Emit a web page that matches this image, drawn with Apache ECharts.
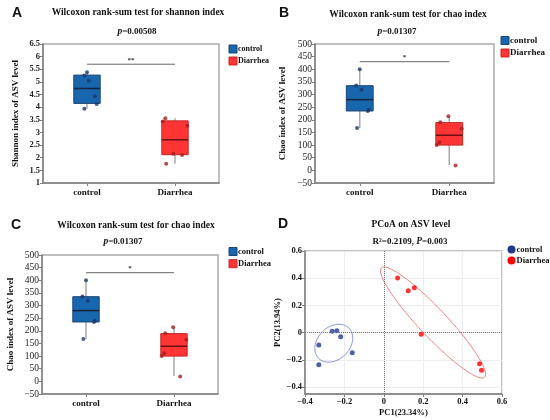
<!DOCTYPE html>
<html>
<head>
<meta charset="utf-8">
<script src="https://cdn.jsdelivr.net/npm/echarts@6/dist/echarts.min.js"></script>
<style>
html, body { margin: 0; padding: 0; background: #fff; }
#main { width: 550px; height: 420px; }
</style>
</head>
<body>
<div id="main"></div>
<script>
var groups = ['control', 'Diarrhea'];

// A: shannon index, points and box stats (min, Q1, median, Q3, max)
var shannonControl = [5.25, 5.38, 5.05, 4.43, 4.13, 3.94];
var shannonDiarrhea = [3.56, 3.43, 3.27, 2.16, 2.11, 1.76];
var shannonJitterControl = [-0.03, 0, 0.02, 0.09, 0.11, -0.03];
var shannonJitterDiarrhea = [-0.11, -0.14, 0.14, -0.02, 0.08, -0.10];
var shannonBoxControl = [3.94, 4.15, 4.74, 5.27, 5.38];
var shannonBoxDiarrhea = [1.76, 2.12, 2.71, 3.46, 3.56];
var shannonSig = 5.7;

// B and C: chao index
var chaoControl = [400, 336, 319, 240, 235, 168];
var chaoDiarrhea = [214, 190, 165, 111, 100, 19];
var chaoJitterControl = [0.00, -0.04, 0.02, 0.10, 0.09, -0.03];
var chaoJitterDiarrhea = [-0.01, -0.10, 0.14, -0.11, -0.14, 0.07];
var chaoBoxControl = [168, 235, 280, 335, 400];
var chaoBoxDiarrhea = [21, 100, 139, 189, 214];
var chaoSig = 430;

// D: PCoA scores [PC1, PC2]
var pcoaControl = [[-0.262, 0.010], [-0.238, 0.015], [-0.219, -0.029], [-0.330, -0.090], [-0.160, -0.148], [-0.330, -0.236]];
var pcoaDiarrhea = [[0.070, 0.402], [0.124, 0.309], [0.155, 0.330], [0.190, -0.012], [0.486, -0.227], [0.496, -0.276]];
// ellipse: centre x, centre y, axis1 dx, dy, axis2 dx, dy
var ellipseControl = [-0.254, -0.077, 0.077, 0.111, 0.058, -0.084];
var ellipseDiarrhea = [0.250, 0.075, 0.262, -0.402, 0.052, 0.070];

var pcTicks = [-0.4, -0.2, 0, 0.2, 0.4, 0.6];

var serif = '"Liberation Serif", "Times New Roman", serif';
var blueFill = '#1866ad', blueLine = '#1b4672', blueMid = '#14263e', bluePt = '#1c3a6c';
var redFill = '#ff3535', redLine = '#c42626', redMid = '#6a1212', redPt = '#a81d1d';

var myChart = echarts.init(document.getElementById('main'));

function minus(s) { return String(s).replace('-', '\u2212'); }

function boxRender(fill, stroke, mid) {
    return function (params, api) {
        var x = api.value(0);
        var lo = api.coord([x, api.value(1)]);
        var q1 = api.coord([x, api.value(2)]);
        var md = api.coord([x, api.value(3)]);
        var q3 = api.coord([x, api.value(4)]);
        var hi = api.coord([x, api.value(5)]);
        var hw = api.size([0.3, 0])[0] / 2;
        return {
            type: 'group',
            children: [
                { type: 'line', shape: { x1: lo[0], y1: lo[1], x2: hi[0], y2: hi[1] }, style: { stroke: '#a8a8a8', lineWidth: 1.5 } },
                { type: 'rect', shape: { x: q3[0] - hw, y: q3[1], width: hw * 2, height: q1[1] - q3[1] }, style: { fill: fill, stroke: stroke, lineWidth: 1 } },
                { type: 'line', shape: { x1: md[0] - hw, y1: md[1], x2: md[0] + hw, y2: md[1] }, style: { stroke: mid, lineWidth: 1.5 } }
            ]
        };
    };
}

function sigRender(mark) {
    return function (params, api) {
        var a = api.coord([api.value(0), api.value(2)]);
        var b = api.coord([api.value(1), api.value(2)]);
        return {
            type: 'group',
            children: [
                { type: 'line', shape: { x1: a[0], y1: a[1], x2: b[0], y2: b[1] }, style: { stroke: '#666', lineWidth: 1 } },
                { type: 'text', x: (a[0] + b[0]) / 2, y: a[1] - 1, style: { text: mark, font: 'bold 7px ' + serif, fill: '#333', align: 'center', verticalAlign: 'bottom' } }
            ]
        };
    };
}

function ellipseRender(color) {
    return function (params, api) {
        var pts = [];
        for (var i = 0; i <= 72; i++) {
            var t = i / 72 * Math.PI * 2;
            var c = Math.cos(t), s = Math.sin(t);
            pts.push(api.coord([
                api.value(0) + api.value(2) * c + api.value(4) * s,
                api.value(1) + api.value(3) * c + api.value(5) * s
            ]));
        }
        return { type: 'polyline', shape: { points: pts }, style: { fill: 'none', stroke: color, lineWidth: 1 } };
    };
}

function jittered(values, jitter, g) {
    return values.map(function (v, i) { return [g + jitter[i], v]; });
}

function groupAxis(gi) {
    return {
        type: 'value', gridIndex: gi, min: -0.5, max: 1.5,
        axisLine: { onZero: false, lineStyle: { color: '#808080', width: 1.5 } },
        axisTick: { customValues: [0, 1], length: 3, lineStyle: { color: '#808080' } },
        axisLabel: {
            customValues: [0, 1], margin: 5,
            formatter: function (v) { return groups[Math.round(v)]; },
            color: '#111', fontFamily: serif, fontWeight: 'bold', fontSize: 9
        },
        splitLine: { show: false }
    };
}

function valueAxis(gi, min, max, step, name, gap, bold, size) {
    return {
        type: 'value', gridIndex: gi, min: min, max: max, interval: step,
        name: name, nameLocation: 'middle', nameGap: gap,
        nameTextStyle: { fontFamily: serif, fontWeight: 'bold', fontSize: 9, color: '#111' },
        axisLine: { show: true, onZero: false, lineStyle: { color: '#808080', width: 1.5 } },
        axisTick: { show: true, length: 3, lineStyle: { color: '#808080' } },
        axisLabel: {
            margin: 3, color: '#222', fontFamily: serif, fontWeight: bold ? 'bold' : 'normal', fontSize: size,
            formatter: function (v) { return minus(v); }
        },
        splitLine: { show: false }
    };
}

function boxPanel(gi, ctl, dia, jc, jd, bc, bd, sig, mark) {
    return [
        { type: 'custom', name: 'control', xAxisIndex: gi, yAxisIndex: gi, renderItem: boxRender(blueFill, blueLine, blueMid), data: [[0].concat(bc)], encode: { x: 0, y: [1, 2, 3, 4, 5] }, silent: true },
        { type: 'custom', name: 'Diarrhea', xAxisIndex: gi, yAxisIndex: gi, renderItem: boxRender(redFill, redLine, redMid), data: [[1].concat(bd)], encode: { x: 0, y: [1, 2, 3, 4, 5] }, silent: true },
        { type: 'custom', name: 'sig', xAxisIndex: gi, yAxisIndex: gi, renderItem: sigRender(mark), data: [[0, 1, sig]], encode: { x: [0, 1], y: 2 }, silent: true },
        { type: 'scatter', name: 'control', xAxisIndex: gi, yAxisIndex: gi, symbolSize: 4, itemStyle: { color: bluePt }, data: jittered(ctl, jc, 0) },
        { type: 'scatter', name: 'Diarrhea', xAxisIndex: gi, yAxisIndex: gi, symbolSize: 4, itemStyle: { color: redPt }, data: jittered(dia, jd, 1) }
    ];
}

function text(x, y, str, font, rich) {
    var st = { text: str, font: font, fill: '#111', align: 'center', verticalAlign: 'middle' };
    if (rich) st.rich = rich;
    return { type: 'text', x: x, y: y, style: st };
}

function legendBox(x, y, gap, size, round, items) {
    var out = [];
    items.forEach(function (it, i) {
        var cy = y + i * gap;
        if (round) {
            out.push({ type: 'circle', shape: { cx: x + 4, cy: cy, r: 4 }, style: { fill: it[1] } });
        } else {
            out.push({ type: 'rect', shape: { x: x, y: cy - 4, width: 8, height: 8 }, style: { fill: it[1], stroke: it[2], lineWidth: 1 } });
        }
        out.push({ type: 'text', x: x + 9, y: cy, style: { text: it[0], font: 'bold ' + size + 'px ' + serif, fill: '#111', align: 'left', verticalAlign: 'middle' } });
    });
    return out;
}

var letterFont = 'bold 14px "Liberation Sans", Arial, sans-serif';
var titleFont = 'bold 9.5px ' + serif;
var pFont = 'bold 9px ' + serif;
var pRich = { i: { font: 'italic bold 9.5px ' + serif }, t: { font: pFont } };
var boxLegend = [['control', blueFill, blueLine], ['Diarrhea', redFill, redLine]];

var graphics = [
    text(17, 13, 'A', letterFont),
    text(284, 13, 'B', letterFont),
    text(16, 225, 'C', letterFont),
    text(283, 224, 'D', letterFont),
    text(138, 13, 'Wilcoxon rank-sum test for shannon index', titleFont),
    text(137, 32, '{i|p}{t|=0.00508}', pFont, pRich),
    text(408, 15, 'Wilcoxon rank-sum test for chao index', titleFont),
    text(397, 32, '{i|p}{t|=0.01307}', pFont, pRich),
    text(136, 226, 'Wilcoxon rank-sum test for chao index', titleFont),
    text(123, 242, '{i|p}{t|=0.01307}', pFont, pRich),
    text(411, 225, 'PCoA on ASV level', titleFont),
    text(410, 242, '{t|R\u00b2=0.2109, }{i|P}{t|=0.003}', pFont, pRich)
].concat(
    legendBox(229, 49, 12, 8, false, boxLegend),
    legendBox(501, 40.5, 12.5, 9, false, boxLegend),
    legendBox(229, 251.5, 12.2, 8.5, false, boxLegend),
    legendBox(507.5, 249.5, 11, 8.5, true, [['control', '#233a8c'], ['Diarrhea', '#ff0000']])
);

var gridStyle = { show: true, borderColor: '#aaaaaa', borderWidth: 1.5, backgroundColor: 'transparent' };

var option = {
    animation: false,
    backgroundColor: '#fff',
    grid: [
        Object.assign({ left: 43, top: 44, width: 176, height: 139 }, gridStyle),
        Object.assign({ left: 315, top: 44, width: 179, height: 139 }, gridStyle),
        Object.assign({ left: 42, top: 255, width: 176, height: 139 }, gridStyle),
        Object.assign({ left: 305, top: 251, width: 197, height: 143 }, gridStyle)
    ],
    xAxis: [
        groupAxis(0), groupAxis(1), groupAxis(2),
        {
            type: 'value', gridIndex: 3, min: -0.4, max: 0.6, interval: 0.2,
            name: 'PC1(23.34%)', nameLocation: 'middle', nameGap: 14,
            nameTextStyle: { fontFamily: serif, fontWeight: 'bold', fontSize: 8.5, color: '#111' },
            axisLine: { onZero: false, lineStyle: { color: '#808080', width: 1.5 } },
            axisTick: { length: 3, lineStyle: { color: '#808080' } },
            axisLabel: { margin: 3, color: '#111', fontFamily: serif, fontWeight: 'bold', fontSize: 8.5, formatter: function (v) { return minus(v); } },
            splitLine: { show: true, lineStyle: { color: '#ececec', width: 1 } }
        }
    ],
    yAxis: [
        valueAxis(0, 1, 6.5, 0.5, 'Shannon index of ASV level', 23, true, 8.5),
        valueAxis(1, -50, 500, 50, 'Chao index of ASV level', 28, false, 9.5),
        valueAxis(2, -50, 500, 50, 'Chao index of ASV level', 27, false, 9.5),
        {
            type: 'value', gridIndex: 3, min: -0.45, max: 0.6,
            name: 'PC2(13.94%)', nameLocation: 'middle', nameGap: 20,
            nameTextStyle: { fontFamily: serif, fontWeight: 'bold', fontSize: 8.5, color: '#111' },
            axisLine: { show: true, onZero: false, lineStyle: { color: '#808080', width: 1.5 } },
            axisTick: { show: true, customValues: pcTicks, length: 3, lineStyle: { color: '#808080' } },
            axisLabel: { customValues: pcTicks, margin: 3, color: '#111', fontFamily: serif, fontWeight: 'bold', fontSize: 8.5, formatter: function (v) { return minus(v); } },
            splitLine: { show: true, lineStyle: { color: '#ececec', width: 1 } }
        }
    ],
    graphic: graphics,
    series: [].concat(
        boxPanel(0, shannonControl, shannonDiarrhea, shannonJitterControl, shannonJitterDiarrhea, shannonBoxControl, shannonBoxDiarrhea, shannonSig, '**'),
        boxPanel(1, chaoControl, chaoDiarrhea, chaoJitterControl, chaoJitterDiarrhea, chaoBoxControl, chaoBoxDiarrhea, chaoSig, '*'),
        boxPanel(2, chaoControl, chaoDiarrhea, chaoJitterControl, chaoJitterDiarrhea, chaoBoxControl, chaoBoxDiarrhea, chaoSig, '*'),
        [
            { type: 'custom', name: 'control', xAxisIndex: 3, yAxisIndex: 3, renderItem: ellipseRender('#8797d4'), data: [ellipseControl], encode: { x: 0, y: 1 }, silent: true },
            { type: 'custom', name: 'Diarrhea', xAxisIndex: 3, yAxisIndex: 3, renderItem: ellipseRender('#f28282'), data: [ellipseDiarrhea], encode: { x: 0, y: 1 }, silent: true },
            {
                type: 'scatter', name: 'control', xAxisIndex: 3, yAxisIndex: 3, symbolSize: 5, itemStyle: { color: '#233a8c' }, data: pcoaControl,
                markLine: {
                    silent: true, symbol: ['none', 'none'], label: { show: false },
                    lineStyle: { type: 'dotted', color: '#777', width: 1 },
                    data: [{ xAxis: 0 }, { yAxis: 0 }]
                }
            },
            { type: 'scatter', name: 'Diarrhea', xAxisIndex: 3, yAxisIndex: 3, symbolSize: 5, itemStyle: { color: '#ff0000' }, data: pcoaDiarrhea }
        ]
    )
};

myChart.setOption(option);
</script>
</body>
</html>
